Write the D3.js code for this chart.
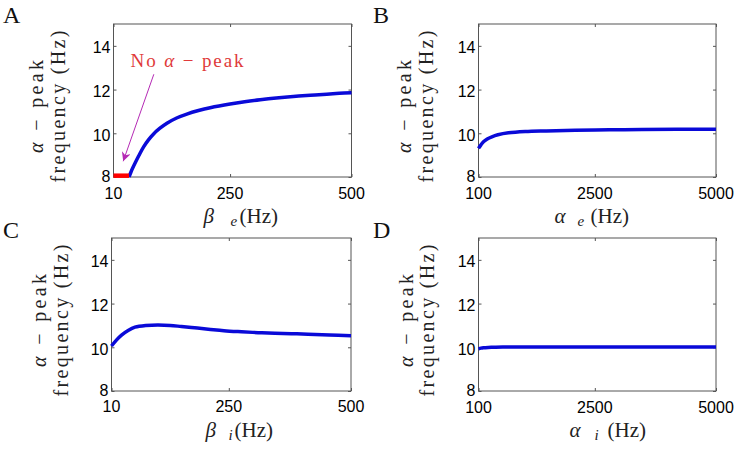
<!DOCTYPE html>
<html>
<head>
<meta charset="utf-8">
<script src="https://cdn.jsdelivr.net/npm/d3@7"></script>
<style>
  html, body { margin: 0; padding: 0; background: #fff; }
  svg { display: block; }
  .tick-label { font-family: "Liberation Sans", Arial, sans-serif; font-size: 16px; fill: #000; }
  .serif { font-family: "Liberation Serif", "DejaVu Serif", serif; fill: #222; }
</style>
</head>
<body>
<svg id="chart" width="739" height="450"></svg>
<script>
// ---------------- data ----------------
const yTicks = [8, 10, 12, 14];
const betaTicks = [10, 250, 500];
const alphaTicks = [100, 2500, 5000];

// Panel A: alpha-peak frequency vs beta_e
const betaE = [42, 46, 50, 55, 62, 72, 82, 92, 105, 120, 140, 161, 185, 209, 250, 280, 312, 345, 380, 415, 449, 475, 500];
const freqA = [8.0, 8.23, 8.43, 8.66, 8.97, 9.38, 9.7, 9.96, 10.22, 10.46, 10.7, 10.88, 11.04, 11.17, 11.34, 11.44, 11.53, 11.61, 11.68, 11.74, 11.79, 11.83, 11.86];
// Region with no alpha peak (panel A)
const noPeakBeta = [10, 42];
const noPeakFreq = [8.06, 8.06];

// Panel B: vs alpha_e
const alphaE = [100, 150, 203, 280, 376, 500, 719, 1064, 1500, 2096, 2800, 3473, 4200, 5000];
const freqB = [9.31, 9.47, 9.61, 9.74, 9.84, 9.93, 10.02, 10.08, 10.11, 10.14, 10.16, 10.17, 10.18, 10.19];

// Panel C: vs beta_i
const betaI = [10, 20, 30.5, 44, 58, 80, 105, 130, 153, 180, 208, 240, 276, 310, 344, 378, 412, 456, 500];
const freqC = [10.06, 10.33, 10.56, 10.77, 10.92, 11.0, 11.02, 11.0, 10.95, 10.89, 10.83, 10.76, 10.71, 10.67, 10.64, 10.62, 10.6, 10.56, 10.53];

// Panel D: vs alpha_i
const alphaI = [100, 150, 200, 300, 400, 600, 1000, 2000, 3000, 4000, 5000];
const freqD = [9.93, 9.96, 9.98, 9.995, 10.0, 10.01, 10.01, 10.01, 10.01, 10.01, 10.01];

// annotation (data coordinates of panel A)
const arrowFrom = [93, 12.7];
const arrowTo = [30, 8.72];

// ---------------- layout ----------------
const panels = [
  { letter: "A", box: [113.5, 351.5, 24, 177], xDomain: [10, 500], xTicks: betaTicks, xs: betaE, ys: freqA,
    sym: "β", sub: "e", symDx: 90, subDx: 117, unitDx: 126, xlabY: 223, tickY: 199,
    yl1: 43, yl2: 65, lx: 3 , ly: 23 },
  { letter: "B", box: [478.5, 716, 24, 177], xDomain: [100, 5000], xTicks: alphaTicks, xs: alphaE, ys: freqB,
    sym: "α", sub: "e", symDx: 76, subDx: 99, unitDx: 112, xlabY: 223, tickY: 199,
    yl1: 411, yl2: 433, lx: 373, ly: 23 },
  { letter: "C", box: [111.5, 351, 238, 391], xDomain: [10, 500], xTicks: betaTicks, xs: betaI, ys: freqC,
    sym: "β", sub: "i", symDx: 94, subDx: 117, unitDx: 123, xlabY: 437, tickY: 412,
    yl1: 46, yl2: 68, lx: 3, ly: 238 },
  { letter: "D", box: [478.5, 716, 238, 391], xDomain: [100, 5000], xTicks: alphaTicks, xs: alphaI, ys: freqD,
    sym: "α", sub: "i", symDx: 91, subDx: 116, unitDx: 129, xlabY: 437, tickY: 413,
    yl1: 413, yl2: 434, lx: 373, ly: 238 }
];

const svg = d3.select("#chart");
const blue = "#0a0ad8";

svg.append("defs").append("marker")
  .attr("id", "arrowhead")
  .attr("viewBox", "0 0 10 10")
  .attr("refX", 10).attr("refY", 5)
  .attr("markerWidth", 10).attr("markerHeight", 9)
  .attr("markerUnits", "userSpaceOnUse")
  .attr("orient", "auto")
  .append("path").attr("d", "M0,0 L10,5 L0,10 L3,5 Z").attr("fill", "#b52ab5");

panels.forEach((p, i) => {
  const [x0, x1, y0, y1] = p.box;
  const x = d3.scaleLinear().domain(p.xDomain).range([x0, x1]);
  const y = d3.scaleLinear().domain([8, 15]).range([y1, y0]);
  const g = svg.append("g");

  // box
  g.append("rect").attr("x", x0).attr("y", y0).attr("width", x1 - x0).attr("height", y1 - y0)
    .attr("fill", "none").attr("stroke", "#555").attr("stroke-width", 1);

  // inward ticks (left/right/top/bottom) via d3 axes
  const tl = 3;
  g.append("g").attr("transform", `translate(${x0},0)`)
    .call(d3.axisRight(y).tickValues(yTicks).tickSize(tl).tickFormat(""))
    .call(a => a.select(".domain").remove())
    .call(a => a.selectAll("line").attr("stroke", "#555"));
  g.append("g").attr("transform", `translate(${x1},0)`)
    .call(d3.axisLeft(y).tickValues(yTicks).tickSize(tl).tickFormat(""))
    .call(a => a.select(".domain").remove())
    .call(a => a.selectAll("line").attr("stroke", "#555"));
  g.append("g").attr("transform", `translate(0,${y1})`)
    .call(d3.axisTop(x).tickValues(p.xTicks).tickSize(tl).tickFormat(""))
    .call(a => a.select(".domain").remove())
    .call(a => a.selectAll("line").attr("stroke", "#555"));
  g.append("g").attr("transform", `translate(0,${y0})`)
    .call(d3.axisBottom(x).tickValues(p.xTicks).tickSize(tl).tickFormat(""))
    .call(a => a.select(".domain").remove())
    .call(a => a.selectAll("line").attr("stroke", "#555"));

  // tick labels
  g.selectAll(".ylab").data(yTicks).enter().append("text")
    .attr("class", "tick-label")
    .attr("x", x0 - 3).attr("y", d => y(d) + (d === 8 ? 4.5 : 7.5))
    .attr("text-anchor", "end").text(d => d);
  g.selectAll(".xlab").data(p.xTicks).enter().append("text")
    .attr("class", "tick-label")
    .attr("x", d => x(d)).attr("y", p.tickY)
    .attr("text-anchor", "middle").text(d => d);

  // curve
  const line = d3.line().x(d => x(d[0])).y(d => y(d[1])).curve(d3.curveCatmullRom.alpha(0.5));
  g.append("path").datum(d3.zip(p.xs, p.ys))
    .attr("d", line).attr("fill", "none").attr("stroke", blue)
    .attr("stroke-width", 3.5).attr("stroke-linecap", "butt");

  if (i === 0) {
    g.append("path").datum(d3.zip(noPeakBeta, noPeakFreq))
      .attr("d", d3.line().x(d => x(d[0])).y(d => y(d[1])))
      .attr("stroke", "#f00").attr("stroke-width", 4.5).attr("fill", "none");
    g.append("line")
      .attr("x1", x(arrowFrom[0])).attr("y1", y(arrowFrom[1]))
      .attr("x2", x(arrowTo[0])).attr("y2", y(arrowTo[1]))
      .attr("stroke", "#b52ab5").attr("stroke-width", 1)
      .attr("marker-end", "url(#arrowhead)");
    const t = g.append("text").attr("class", "serif")
      .attr("x", 130.5).attr("y", 66.5)
      .attr("font-size", 19).style("fill", "#e03a3a")
      .attr("textLength", 113).attr("lengthAdjust", "spacing");
    t.append("tspan").text("No ");
    t.append("tspan").attr("font-style", "italic").text("α");
    t.append("tspan").text(" − peak");
  }

  // y label (two lines)
  const cy = (y0 + y1) / 2 + 6;
  const l1 = g.append("text").attr("class", "serif").attr("font-size", 20)
    .attr("transform", `translate(${p.yl1},${cy}) rotate(-90)`)
    .attr("text-anchor", "middle").attr("textLength", 93).attr("lengthAdjust", "spacing");
  l1.append("tspan").attr("font-style", "italic").text("α");
  l1.append("tspan").text(" − peak");
  g.append("text").attr("class", "serif").attr("font-size", 20)
    .attr("transform", `translate(${p.yl2},${cy}) rotate(-90)`)
    .attr("text-anchor", "middle").attr("textLength", 152).attr("lengthAdjust", "spacing")
    .text("frequency (Hz)");

  // x label
  g.append("text").attr("class", "serif").attr("font-size", 21).attr("font-style", "italic")
    .attr("x", x0 + p.symDx).attr("y", p.xlabY).text(p.sym);
  g.append("text").attr("class", "serif").attr("font-size", 15).attr("font-style", "italic")
    .attr("x", x0 + p.subDx).attr("y", p.xlabY + 3).text(p.sub);
  g.append("text").attr("class", "serif").attr("font-size", 21)
    .attr("x", x0 + p.unitDx).attr("y", p.xlabY)
    .text("(Hz)");

  // panel letter
  svg.append("text").attr("class", "serif").attr("font-size", 24).style("fill", "#111")
    .attr("x", p.lx).attr("y", p.ly).text(p.letter);
});
</script>
</body>
</html>
